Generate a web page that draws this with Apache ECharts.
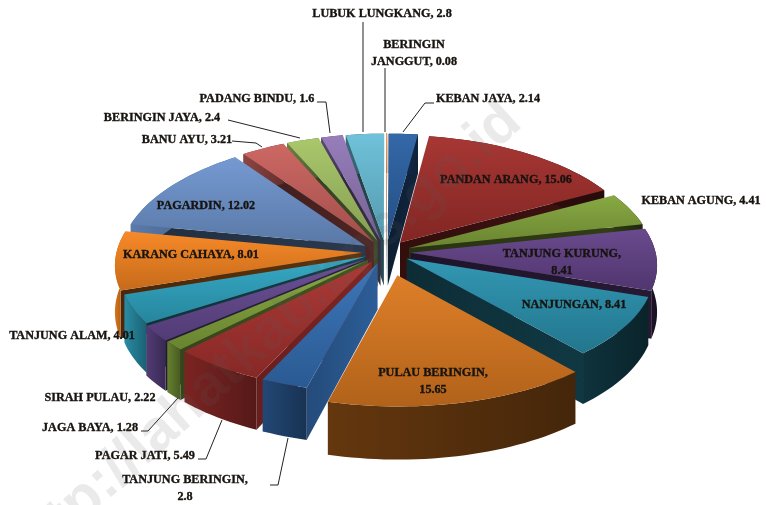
<!DOCTYPE html>
<html>
<head>
<meta charset="utf-8">
<style>
  html, body { margin: 0; padding: 0; background: #fff; }
  #chart { width: 766px; height: 505px; }
</style>
<script src="https://cdn.jsdelivr.net/npm/echarts@6/dist/echarts.min.js"></script>
</head>
<body>
<div id="chart"></div>
<script>
  // data, clockwise from the top
  const names = ['BERINGIN JANGGUT', 'KEBAN JAYA', 'PANDAN ARANG', 'KEBAN AGUNG', 'TANJUNG KURUNG', 'NANJUNGAN',
    'PULAU BERINGIN', 'TANJUNG BERINGIN', 'PAGAR JATI', 'JAGA BAYA', 'SIRAH PULAU', 'TANJUNG ALAM',
    'KARANG CAHAYA', 'PAGARDIN', 'BANU AYU', 'BERINGIN JAYA', 'PADANG BINDU', 'LUBUK LUNGKANG'];
  const values = [0.08, 2.14, 15.06, 4.41, 8.41, 8.41, 15.65, 2.8, 5.49, 1.28, 2.22, 4.01, 8.01, 12.02, 3.21, 2.4, 1.6, 2.8];
  const colors = ['#f79646', '#2c62a4', '#a32f2c', '#83a53c', '#644289', '#2b93b0', '#dd7a20', '#3570b6', '#a9322f', '#83a53c',
    '#664a92', '#2fa6c4', '#f78520', '#6f96d0', '#cb625e', '#a6c566', '#9379b8', '#69bfd8'];
  // how far each slice is pulled out of the pie
  const explode = [0.1, 0.1, 0.1, 0.1, 0.1, 0.1, 0.2, 0.1, 0.1, 0.1, 0.1, 0.09, 0.1, 0.1, 0.1, 0.1, 0.1, 0.1];

  // label text lines, and where they sit
  const labelLines = [['BERINGIN', 'JANGGUT, 0.08'], ['KEBAN JAYA, 2.14'], ['PANDAN ARANG, 15.06'], ['KEBAN AGUNG, 4.41'],
    ['TANJUNG KURUNG,', '8.41'], ['NANJUNGAN, 8.41'], ['PULAU BERINGIN,', '15.65'], ['TANJUNG BERINGIN,', '2.8'],
    ['PAGAR JATI, 5.49'], ['JAGA BAYA, 1.28'], ['SIRAH PULAU, 2.22'], ['TANJUNG ALAM, 4.01'], ['KARANG CAHAYA, 8.01'],
    ['PAGARDIN, 12.02'], ['BANU AYU, 3.21'], ['BERINGIN JAYA, 2.4'], ['PADANG BINDU, 1.6'], ['LUBUK LUNGKANG, 2.8']];
  const labelCenters = [[414, 53], [488, 99], [506, 180], [701, 201], [562, 262], [574, 305], [433, 381], [185, 488],
    [145, 456], [90, 428], [100, 398], [72, 336], [191, 255], [206, 206], [187, 140], [162, 118], [257, 99], [382, 14]];
  const leaders = [
    [[385, 68], [385, 132]],
    [[434, 103], [425, 103], [403, 132]],
    [[141, 431], [148, 431], [178, 398]],
    [[198, 459], [206, 459], [222, 420]],
    [[270, 485], [278, 485], [288, 438]],
    [[232, 141], [256, 143], [262, 147]],
    [[228, 120], [300, 138]],
    [[317, 102], [326, 102], [330, 133]],
    [[363, 22], [363, 132]]
  ];

  const CX = 386, CY = 252, RX = 245, RY = 118, DEPTH = 46;
  const total = values.reduce((a, b) => a + b, 0);

  // disk coordinates -> screen, with a bit of perspective
  function project (u, v, z) {
    let sx = 1 + 0.1 * v;
    let sy = 1 + 0.08 * v;
    return [CX + RX * u * sx, CY + RY * v * sy + z * DEPTH * (1 + 0.13 * v)];
  }

  function shade (hex, f) {
    let n = parseInt(hex.slice(1), 16);
    let c = [n >> 16, (n >> 8) & 255, n & 255].map(function (x) {
      return Math.round(f > 1 ? x + (255 - x) * (f - 1) : x * f);
    });
    return 'rgb(' + c.join(',') + ')';
  }

  function grad (x2, y2, from, to) {
    return new echarts.graphic.LinearGradient(0, 0, x2, y2, [
      { offset: 0, color: from },
      { offset: 1, color: to }
    ]);
  }

  // slice angles
  let acc = 0;
  const slices = values.map(function (val, i) {
    let a0 = acc / total * Math.PI * 2;
    acc += val;
    let a1 = acc / total * Math.PI * 2;
    return { index: i, a0: a0, a1: a1, mid: (a0 + a1) / 2 };
  });
  // back slices get painted first
  const drawOrder = slices.slice().sort(function (a, b) {
    return Math.cos(b.mid) - Math.cos(a.mid);
  }).map(function (s) { return s.index; });

  function renderSlice (params, api) {
    let s = slices[api.value(0)];
    let color = colors[s.index];
    let e = explode[s.index];
    let ou = e * Math.sin(s.mid);
    let ov = -e * Math.cos(s.mid);
    let pt = function (a, r, z) {
      return project(ou + r * Math.sin(a), ov - r * Math.cos(a), z);
    };
    let topArc = [];
    let lowArc = [];
    let steps = Math.max(2, Math.ceil((s.a1 - s.a0) / 0.03));
    for (let k = 0; k <= steps; k++) {
      let a = s.a0 + (s.a1 - s.a0) * k / steps;
      topArc.push(pt(a, 1, 0));
      lowArc.push(pt(a, 1, 1));
    }
    let children = [];
    let wall = function (a, f) {
      return { type: 'polygon', shape: { points: [pt(0, 0, 0), pt(a, 1, 0), pt(a, 1, 1), pt(0, 0, 1)] },
        style: { fill: grad(1, 0, shade(color, f * 0.8), shade(color, f)) } };
    };
    // the walls that face the light on the front left stay bright
    if (Math.sin(s.a0) < 0) {
      let lit = Math.max(0, Math.min(1, (-Math.cos(s.a0) - 0.6) / 0.4));
      children.push(wall(s.a0, 0.38 + 0.5 * lit));
    }
    if (Math.sin(s.a1) > 0) children.push(wall(s.a1, 0.38));
    let f = Math.max(0.3, 0.46 - 0.3 * Math.sin(s.mid));
    children.push({ type: 'polygon', shape: { points: topArc.concat(lowArc.slice().reverse()) },
      style: { fill: grad(1, 0, shade(color, f * 1.15), shade(color, f * 0.8)) } });
    children.push({ type: 'polygon', shape: { points: [pt(0, 0, 0)].concat(topArc) },
      style: { fill: grad(0, 1, shade(color, 1.04), shade(color, 0.8)) } });
    return { type: 'group', children: children };
  }

  function renderLabel (params, api) {
    let i = api.value(0);
    return {
      type: 'text',
      z2: 10,
      style: {
        x: labelCenters[i][0],
        y: labelCenters[i][1],
        text: labelLines[i].join('\n'),
        align: 'center',
        verticalAlign: 'middle',
        lineHeight: 17,
        font: 'bold 12.2px "Liberation Serif", serif',
        fill: '#17130f',
        stroke: '#17130f',
        lineWidth: 0.35
      }
    };
  }

  function renderLeader (params, api) {
    return {
      type: 'polyline',
      shape: { points: leaders[api.value(0)] },
      style: { fill: 'none', stroke: '#222', lineWidth: 1 }
    };
  }

  let myChart = echarts.init(document.getElementById('chart'), null, { renderer: 'canvas' });
  myChart.setOption({
    backgroundColor: '#fff',
    animation: false,
    series: [
      { type: 'custom', coordinateSystem: 'none', renderItem: renderSlice, data: drawOrder, z: 1, silent: true },
      { type: 'custom', coordinateSystem: 'none', renderItem: renderLeader, data: leaders.map((l, i) => i), z: 2, silent: true },
      { type: 'custom', coordinateSystem: 'none', renderItem: renderLabel, data: names.map((n, i) => i), z: 3, silent: true }
    ],
    graphic: [{
      type: 'text',
      z: 20,
      silent: true,
      x: 264,
      y: 338,
      rotation: 42 * Math.PI / 180,
      style: {
        text: 'http://lahatkab.bps.go.id',
        align: 'center',
        verticalAlign: 'middle',
        font: 'bold 58px "Liberation Sans", sans-serif',
        fill: 'rgba(90,90,90,0.13)'
      }
    }]
  });
</script>
</body>
</html>
